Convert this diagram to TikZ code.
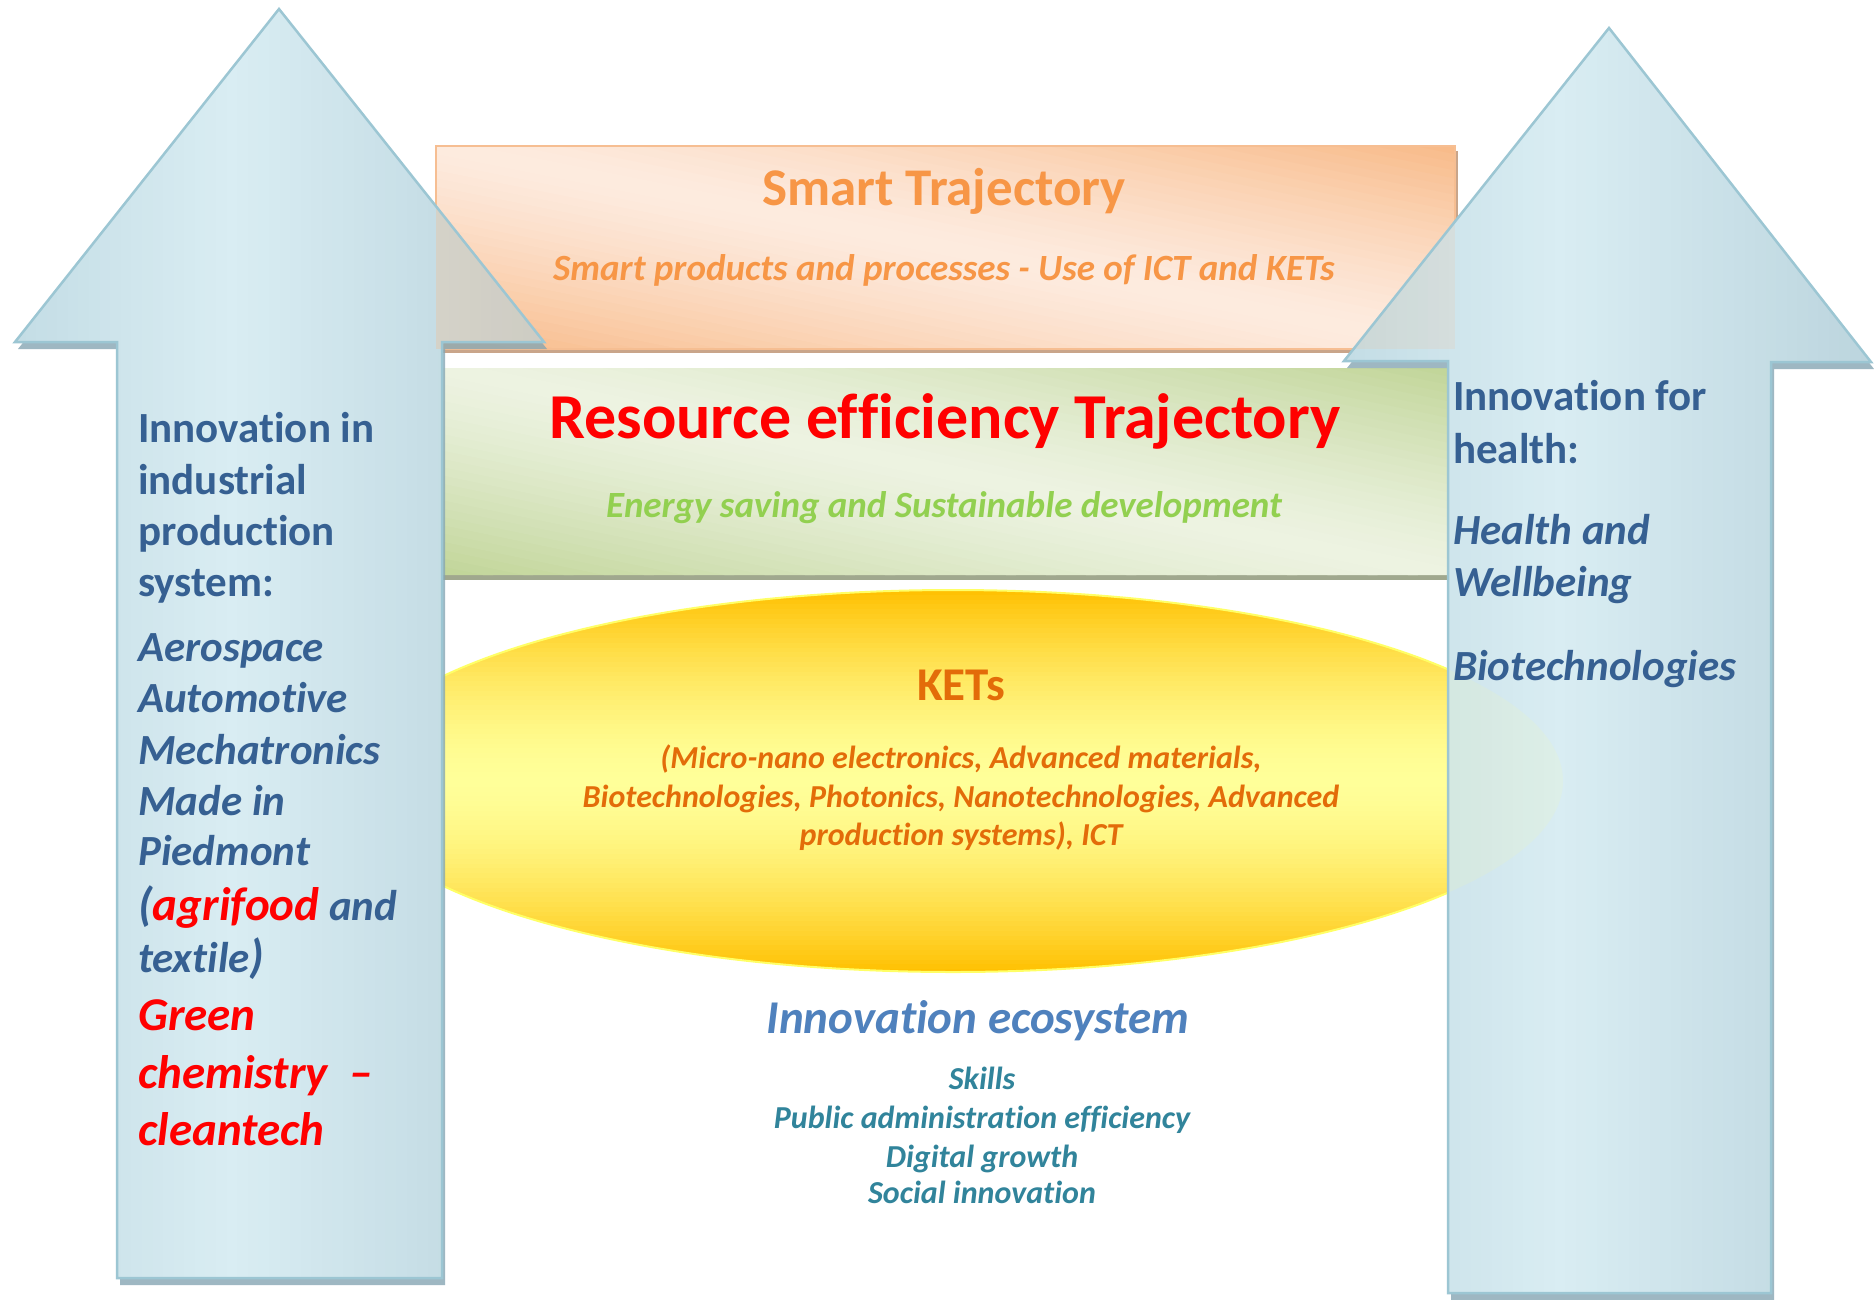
\documentclass[tikz,border=0pt]{standalone}
\usepackage{fontspec}
\setmainfont{Carlito}[Ligatures=NoCommon]
\definecolor{txtblue}{HTML}{366092}
\definecolor{smartor}{HTML}{F79646}
\definecolor{ketor}{HTML}{E36C09}
\definecolor{engreen}{HTML}{92D050}
\definecolor{ecoblue}{HTML}{4F81BD}
\definecolor{itemteal}{HTML}{31849B}
\definecolor{arrowL}{HTML}{C4DDE5}
\definecolor{arrowM}{HTML}{D9EDF3}
\definecolor{arrowR}{HTML}{BCD5DE}
\definecolor{arrowedge}{HTML}{9CC6D3}
\definecolor{arrowshadow}{HTML}{86A6B3}
\definecolor{peachL}{HTML}{FDEBDF}
\definecolor{peachD}{HTML}{F8BA88}
\definecolor{peachedge}{HTML}{F6BE92}
\definecolor{peachshadow}{HTML}{C9A58A}
\definecolor{greenL}{HTML}{EDF3E2}
\definecolor{greenD}{HTML}{C1D598}
\definecolor{greenshadow}{HTML}{A0A88E}
\definecolor{ellO}{HTML}{FFC000}
\definecolor{ellY}{HTML}{FFFF99}
\definecolor{elledge}{HTML}{FFFF66}
% diagonal gradient: x0 y0 x1 y1 darkcolour lightcolour
\newcommand{\diaggrad}[6]{%
  \begin{scope}
    \clip (#1,#2) rectangle (#3,#4);
    \pgfmathsetmacro\gxc{(#1+#3)/2}
    \pgfmathsetmacro\ghw{(#3-#1)/2}
    \foreach \i in {0,...,49}{%
      \pgfmathsetmacro\sa{-2+\i*0.08}
      \pgfmathsetmacro\sb{\sa+0.1}
      \pgfmathsetmacro\gm{100*(abs(\sa+0.04)/2)^1.3}
      \fill[#5!\gm!#6] ({\gxc+(\sa-1)*\ghw},#2) -- ({\gxc+(\sb-1)*\ghw},#2)
        -- ({\gxc+(\sb+1)*\ghw},#4) -- ({\gxc+(\sa+1)*\ghw},#4) -- cycle;
    }
  \end{scope}}
% horizontal gradient for arrows: x0 width
\newcommand{\arrowgrad}[2]{%
  \foreach \i in {0,...,19}{%
    \pgfmathsetmacro\xa{#1+\i*0.02*#2}
    \pgfmathsetmacro\xb{\xa+0.03*#2}
    \pgfmathsetmacro\gm{\i*5}
    \fill[arrowM!\gm!arrowL] (\xa,0) rectangle (\xb,1299);
  }
  \foreach \i in {0,...,29}{%
    \pgfmathsetmacro\xa{#1+0.4*#2+\i*0.02*#2}
    \pgfmathsetmacro\xb{\xa+0.03*#2}
    \pgfmathsetmacro\gm{\i*100/29}
    \fill[arrowR!\gm!arrowM] (\xa,0) rectangle (\xb,1299);
  }}
\tikzset{
  arrowline/.style={draw=arrowedge, line width=2.5pt, line join=miter},
  arrowshade/.style={fill=arrowshadow, fill opacity=0.8},
  headtxt/.style={anchor=base west, inner sep=0pt, text=txtblue, font=\fontsize{43}{50}\selectfont\bfseries},
  itemtxt/.style={anchor=base west, inner sep=0pt, text=txtblue, font=\fontsize{43}{50}\selectfont\bfseries\itshape},
  redtxt/.style={anchor=base west, inner sep=0pt, text=red, font=\fontsize{47}{56}\selectfont\bfseries\itshape},
  ctr/.style={anchor=base, inner sep=0pt},
  ketline/.style={ctr, text=ketor, font=\fontsize{32}{38}\selectfont\bfseries\itshape},
  ecoline/.style={ctr, text=itemteal, font=\fontsize{32}{38}\selectfont\bfseries\itshape},
}
\begin{document}
\begin{tikzpicture}[x=1pt,y=-1pt]
\useasboundingbox (0,0) rectangle (1874,1299);
\fill[white] (0,0) rectangle (1874,1299);

% Smart trajectory box
\fill[peachshadow] (439,151) rectangle (1458,353);
\diaggrad{436}{146}{1455}{349}{peachD}{peachL}
\draw[peachedge, line width=2pt] (436,146) rectangle (1455,349);

% Resource efficiency box
\fill[greenshadow] (443,372) rectangle (1448,580);
\diaggrad{443}{368}{1448}{575}{greenD}{greenL}

% KETs ellipse
\begin{scope}
  \clip (953,781) ellipse [x radius=610, y radius=191];
  \foreach \i in {0,...,79}{%
    \pgfmathsetmacro\ya{590+\i*4.8}
    \pgfmathsetmacro\yb{\ya+6}
    \pgfmathsetmacro\gm{100*(abs((\ya+2.4-781)/191))^1.6}
    \fill[ellO!\gm!ellY] (340,\ya) rectangle (1570,\yb);
  }
\end{scope}
\draw[elledge, line width=2pt] (953,781) ellipse [x radius=610, y radius=191];

% Left arrow
\fill[arrowshade, shift={(3,7)}] (279,9) -- (544,342) -- (442,342) -- (442,1278) -- (117,1278) -- (117,342) -- (15,342) -- cycle;
\begin{scope}
  \clip (279,9) -- (544,342) -- (442,342) -- (442,1278) -- (117,1278) -- (117,342) -- (15,342) -- cycle;
  \arrowgrad{15}{529}
  \fill[peachD, fill opacity=0.3] (436,146) rectangle (1455,349);
\end{scope}
\path[arrowline] (279,9) -- (544,342) -- (442,342) -- (442,1278) -- (117,1278) -- (117,342) -- (15,342) -- cycle;

% Right arrow
\fill[arrowshade, shift={(3,7)}] (1609,28) -- (1871,362) -- (1771,362) -- (1771,1293) -- (1448,1293) -- (1448,361) -- (1344,361) -- cycle;
\begin{scope}
  \clip (1609,28) -- (1871,362) -- (1771,362) -- (1771,1293) -- (1448,1293) -- (1448,361) -- (1344,361) -- cycle;
  \arrowgrad{1344}{527}
  \fill[peachD, fill opacity=0.15] (436,146) rectangle (1455,349);
  \fill[ellY, fill opacity=0.12] (953,781) ellipse [x radius=610, y radius=191];
\end{scope}
\path[arrowline] (1609,28) -- (1871,362) -- (1771,362) -- (1771,1293) -- (1448,1293) -- (1448,361) -- (1344,361) -- cycle;

% Smart texts
\node[ctr, text=smartor, font=\fontsize{53}{60}\selectfont\bfseries] (smart) at (944,205) {Smart Trajectory};
\node[ctr, text=smartor, font=\fontsize{37}{44}\selectfont\bfseries\itshape] (smartsub) at (944,280) {Smart products and processes - Use of ICT and KETs};

% Resource texts
\node[ctr, text=red, font=\fontsize{64}{72}\selectfont\bfseries] (res) at (945,438) {Resource efficiency Trajectory};
\node[ctr, text=engreen, font=\fontsize{37}{44}\selectfont\bfseries\itshape] (ressub) at (944,517) {Energy saving and Sustainable development};

% KETs texts
\node[ctr, text=ketor, font=\fontsize{47}{54}\selectfont\bfseries] (kets) at (961,700) {KETs};
\node[ketline] (k1) at (961,768) {(Micro-nano electronics, Advanced materials,};
\node[ketline] (k2) at (961,807) {Biotechnologies, Photonics, Nanotechnologies, Advanced};
\node[ketline] (k3) at (961,845) {production systems), ICT};

% Ecosystem texts
\node[ctr, text=ecoblue, font=\fontsize{47}{54}\selectfont\bfseries\itshape] (eco) at (978,1033) {Innovation ecosystem};
\node[ecoline] (e1) at (982,1089) {Skills};
\node[ecoline] (e2) at (982,1128) {Public administration efficiency};
\node[ecoline] (e3) at (982,1167) {Digital growth};
\node[ecoline] (e4) at (982,1203) {Social innovation};

% Left arrow texts
\node[headtxt] (l1) at (138,442) {Innovation in};
\node[headtxt] (l2) at (138,494) {industrial};
\node[headtxt] (l3) at (138,545) {production};
\node[headtxt] (l4) at (138,596) {system:};
\node[itemtxt] (l5) at (138,661) {Aerospace};
\node[itemtxt] (l6) at (138,712) {Automotive};
\node[itemtxt] (l7) at (138,764) {Mechatronics};
\node[itemtxt] (l8) at (138,815) {Made in};
\node[itemtxt] (l9) at (138,865) {Piedmont};
\node[itemtxt] (l10) at (138,920) {{\fontsize{47}{56}\selectfont(}{\color{red}\fontsize{47}{56}\selectfont agrifood} and};
\node[itemtxt] (l11) at (138,972) {textile{\fontsize{47}{56}\selectfont)}};
\node[redtxt] (l12) at (138,1030) {Green};
\node[redtxt] (l13) at (138,1088) {chemistry~ –};
\node[redtxt] (l14) at (138,1145) {cleantech};

% Right arrow texts
\node[headtxt] (r1) at (1453,410) {Innovation for};
\node[headtxt] (r2) at (1453,463) {health:};
\node[itemtxt] (r3) at (1453,544) {Health and};
\node[itemtxt] (r4) at (1453,596) {Wellbeing};
\node[itemtxt] (r5) at (1453,680) {Biotechnologies};
\end{tikzpicture}
\end{document}
